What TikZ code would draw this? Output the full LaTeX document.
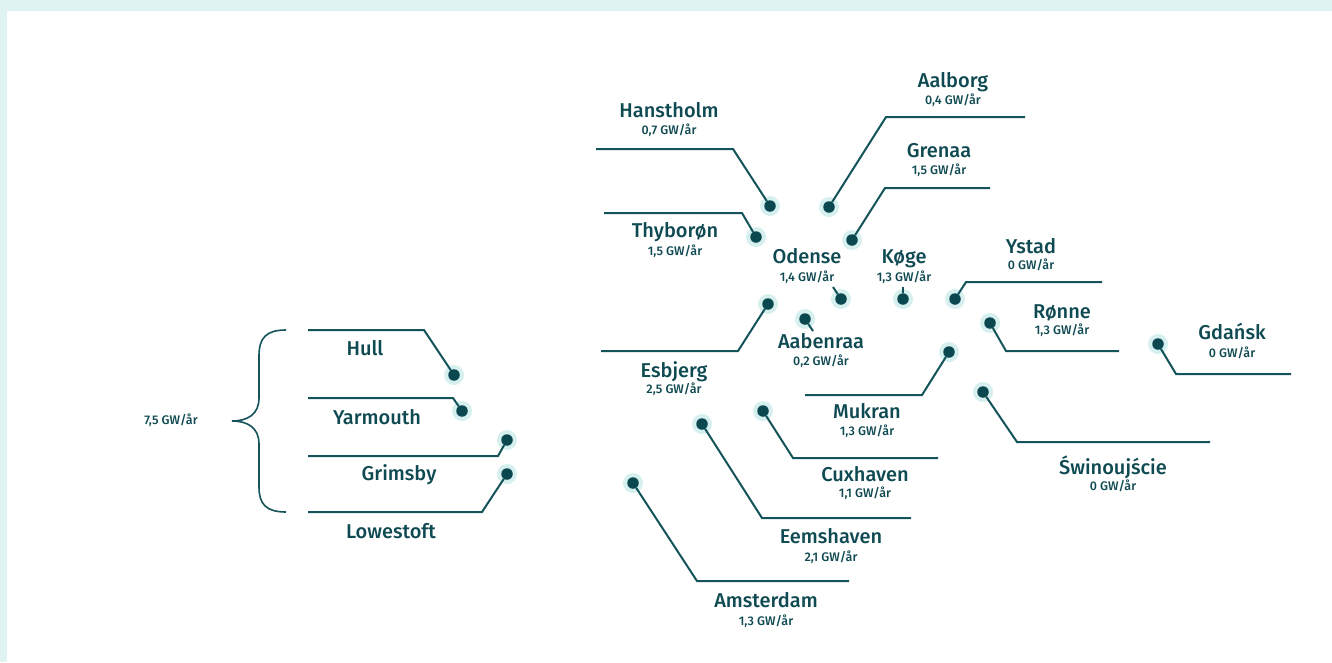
\documentclass[tikz,border=0pt]{standalone}
\usepackage{fontspec}
\setmainfont{Fira Sans Medium}
\usetikzlibrary{backgrounds}

\definecolor{ink}{HTML}{0F4A52}
\definecolor{wire}{HTML}{145359}
\definecolor{dotcol}{HTML}{0B474E}
\definecolor{halo}{HTML}{D6EFEF}
\definecolor{frame}{HTML}{DFF3F2}

\tikzset{
  city/.style={anchor=base, text=ink, inner sep=0pt, font=\fontsize{20}{24}\selectfont},
  rate/.style={anchor=base, text=ink, inner sep=0pt, font=\fontsize{12.5}{15}\selectfont},
  port/.style={circle, fill=dotcol, minimum size=11.5pt, inner sep=0pt, outer sep=0pt},
  link/.style={draw=wire, line width=2pt, line join=miter},
}

\begin{document}
\begin{tikzpicture}[x=1pt, y=-1pt]
\useasboundingbox (0,0) rectangle (1332,662);

% ports
\node[port] (hanstholm) at (770,206) {};
\node[port] (aalborg)   at (829,207) {};
\node[port] (grenaa)    at (852,240) {};
\node[port] (thyboron)  at (756,237) {};
\node[port] (odense)    at (841,299) {};
\node[port] (koge)      at (903,299) {};
\node[port] (ystad)     at (955,299) {};
\node[port] (ronne)     at (990,323) {};
\node[port] (gdansk)    at (1158,344) {};
\node[port] (swin)      at (983,392) {};
\node[port] (mukran)    at (949,352) {};
\node[port] (aabenraa)  at (805,319) {};
\node[port] (esbjerg)   at (768,304) {};
\node[port] (cuxhaven)  at (763,411) {};
\node[port] (eemshaven) at (702,424) {};
\node[port] (amsterdam) at (633,483) {};
\node[port] (hull)      at (454,375) {};
\node[port] (yarmouth)  at (462,411) {};
\node[port] (grimsby)   at (507,440) {};
\node[port] (lowestoft) at (507,474) {};

% page, frame and halos behind everything
\begin{scope}[on background layer]
  \fill[white] (0,0) rectangle (1332,662);
  \fill[frame] (0,0) rectangle (1332,11);
  \fill[frame] (0,0) rectangle (7,662);
  \foreach \p in {hanstholm,aalborg,grenaa,thyboron,odense,koge,ystad,ronne,
                  gdansk,swin,mukran,aabenraa,esbjerg,cuxhaven,eemshaven,
                  amsterdam,hull,yarmouth,grimsby,lowestoft}
    \fill[halo] (\p.center) circle (10);
\end{scope}

% leader lines: free end, bend, port
\coordinate (hanstholm-e) at (596,149);  \coordinate (hanstholm-b) at (733,149);
\coordinate (aalborg-e)   at (1025,117); \coordinate (aalborg-b)   at (886,117);
\coordinate (grenaa-e)    at (990,188);  \coordinate (grenaa-b)    at (885,188);
\coordinate (thyboron-e)  at (604,213);  \coordinate (thyboron-b)  at (742,213);
\coordinate (odense-e)    at (833,287);
\coordinate (koge-e)      at (903,287);
\coordinate (ystad-e)     at (1102,282); \coordinate (ystad-b)     at (966,282);
\coordinate (ronne-e)     at (1119,351); \coordinate (ronne-b)     at (1006,351);
\coordinate (gdansk-e)    at (1291,374); \coordinate (gdansk-b)    at (1176,374);
\coordinate (swin-e)      at (1210,442); \coordinate (swin-b)      at (1017,442);
\coordinate (mukran-e)    at (805,395);  \coordinate (mukran-b)    at (922,395);
\coordinate (aabenraa-e)  at (813,331);
\coordinate (esbjerg-e)   at (601,351);  \coordinate (esbjerg-b)   at (738,351);
\coordinate (cuxhaven-e)  at (938,458);  \coordinate (cuxhaven-b)  at (793,458);
\coordinate (eemshaven-e) at (911,518);  \coordinate (eemshaven-b) at (762,518);
\coordinate (amsterdam-e) at (849,581);  \coordinate (amsterdam-b) at (697,581);
\coordinate (hull-e)      at (308,330);  \coordinate (hull-b)      at (424,330);
\coordinate (yarmouth-e)  at (308,398);  \coordinate (yarmouth-b)  at (453,398);
\coordinate (grimsby-e)   at (308,456);  \coordinate (grimsby-b)   at (498,456);
\coordinate (lowestoft-e) at (308,512);  \coordinate (lowestoft-b) at (482,512);

\foreach \p in {hanstholm,aalborg,grenaa,thyboron,ystad,ronne,gdansk,swin,
                mukran,esbjerg,cuxhaven,eemshaven,amsterdam,
                hull,yarmouth,grimsby,lowestoft}
  \draw[link] (\p-e) -- (\p-b) -- (\p);
\foreach \p in {odense,koge,aabenraa}
  \draw[link] (\p-e) -- (\p);

% names and capacities
\node[city] (t-hanstholm) at (669,117) {Hanstholm};
\node[rate] (r-hanstholm) at (669,134) {0,7 GW/år};
\node[city] (t-aalborg)   at (953,87)  {Aalborg};
\node[rate] (r-aalborg)   at (953,104) {0,4 GW/år};
\node[city] (t-grenaa)    at (939,157) {Grenaa};
\node[rate] (r-grenaa)    at (939,174) {1,5 GW/år};
\node[city] (t-thyboron)  at (675,237) {Thyborøn};
\node[rate] (r-thyboron)  at (675,255) {1,5 GW/år};
\node[city] (t-odense)    at (807,263) {Odense};
\node[rate] (r-odense)    at (807,281) {1,4 GW/år};
\node[city] (t-koge)      at (904,263) {Køge};
\node[rate] (r-koge)      at (904,281) {1,3 GW/år};
\node[city] (t-ystad)     at (1031,253) {Ystad};
\node[rate] (r-ystad)     at (1031,269) {0 GW/år};
\node[city] (t-ronne)     at (1062,318) {Rønne};
\node[rate] (r-ronne)     at (1062,334) {1,3 GW/år};
\node[city] (t-gdansk)    at (1232,339) {Gdańsk};
\node[rate] (r-gdansk)    at (1232,357) {0 GW/år};
\node[city] (t-swin)      at (1113,474) {Świnoujście};
\node[rate] (r-swin)      at (1113,490) {0 GW/år};
\node[city] (t-mukran)    at (867,418) {Mukran};
\node[rate] (r-mukran)    at (867,435) {1,3 GW/år};
\node[city] (t-aabenraa)  at (821,348) {Aabenraa};
\node[rate] (r-aabenraa)  at (821,365) {0,2 GW/år};
\node[city] (t-esbjerg)   at (674,377) {Esbjerg};
\node[rate] (r-esbjerg)   at (674,393) {2,5 GW/år};
\node[city] (t-cuxhaven)  at (865,481) {Cuxhaven};
\node[rate] (r-cuxhaven)  at (865,497) {1,1 GW/år};
\node[city] (t-eemshaven) at (831,543) {Eemshaven};
\node[rate] (r-eemshaven) at (831,561) {2,1 GW/år};
\node[city] (t-amsterdam) at (766,607) {Amsterdam};
\node[rate] (r-amsterdam) at (766,625) {1,3 GW/år};

\node[city] (t-hull)      at (365,355) {Hull};
\node[city] (t-yarmouth)  at (377,424) {Yarmouth};
\node[city] (t-grimsby)   at (399,480) {Grimsby};
\node[city] (t-lowestoft) at (391,538) {Lowestoft};

% brace grouping the British ports
\coordinate (brace-top) at (286,330);
\coordinate (brace-tip) at (232,421);
\coordinate (brace-bot) at (286,512);
\draw[draw=wire, line width=1.6pt]
  (brace-top) .. controls (266,330) and (259,338) .. (259,356)
  -- (259,398) .. controls (259,414) and (248,421) .. (brace-tip)
  .. controls (248,421) and (259,428) .. (259,444)
  -- (259,487) .. controls (259,504) and (266,512) .. (brace-bot);
\node[rate] (r-uk) at (171,424) {7,5 GW/år};
\end{tikzpicture}
\end{document}
